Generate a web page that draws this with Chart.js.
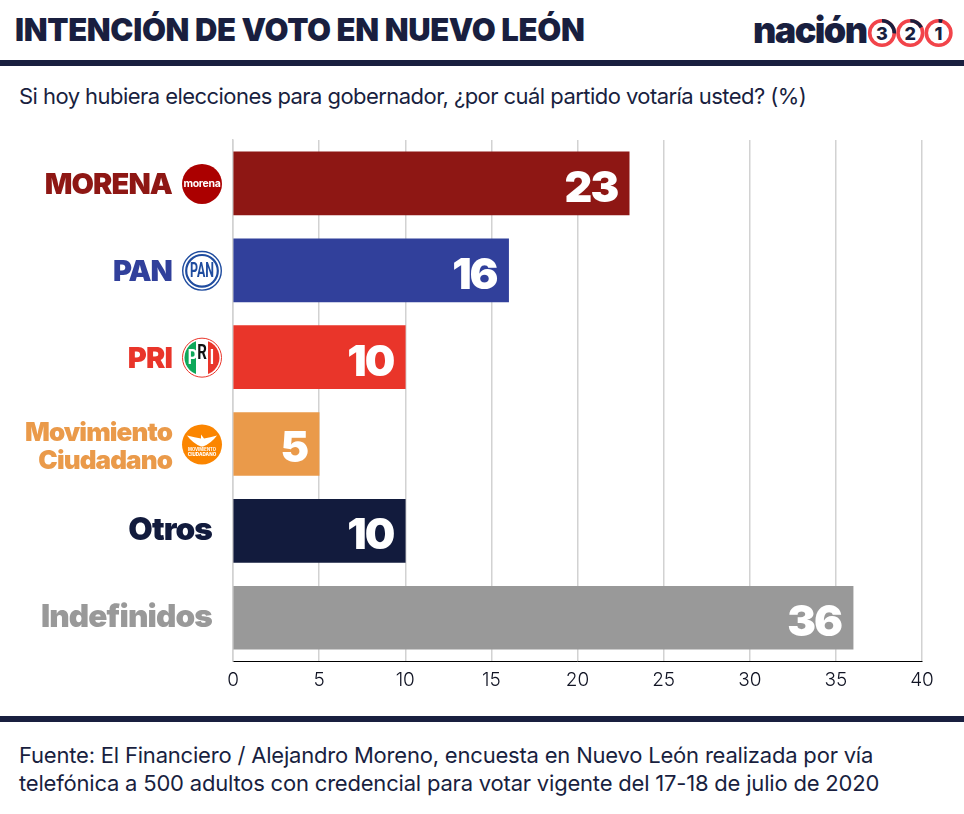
<!DOCTYPE html>
<html>
<head>
<meta charset="utf-8">
<script src="https://cdn.jsdelivr.net/npm/chart.js@4"></script>
<style>
  html, body { margin: 0; padding: 0; background: #fff; }
  body { width: 964px; height: 814px; position: relative; overflow: hidden; }
  .abs { position: absolute; white-space: nowrap; }
  #title { left: 15px; top: 11px; font: 900 31px Inter, sans-serif; letter-spacing: -0.33px; color: #191f3f; }
  #subtitle { left: 19px; top: 83px; font: 400 22px Inter, sans-serif; letter-spacing: -0.55px; color: #191f3f; }
  #source { left: 19px; top: 741px; font: 400 22px/28px Inter, sans-serif; letter-spacing: -0.2px; color: #191f3f; }
  .rule { position: absolute; left: 0; width: 964px; background: #191f3f; }
  #logo-word { left: 753px; top: 8px; font: 900 36px Inter, sans-serif; letter-spacing: -1.6px; color: #191f3f; }
  #chart-wrap { position: absolute; left: 0; top: 125px; width: 964px; height: 575px; }
</style>
</head>
<body>
<div class="abs" id="title">INTENCIÓN DE VOTO EN NUEVO LEÓN</div>
<div class="abs" id="logo-word">nación</div>
<svg class="abs" style="left:866px;top:17px" width="90" height="32" id="rings"></svg>
<div class="rule" style="top:60px;height:6px"></div>
<div class="abs" id="subtitle">Si hoy hubiera elecciones para gobernador, ¿por cuál partido votaría usted? (%)</div>
<div id="chart-wrap"><canvas id="chart"></canvas></div>
<div class="rule" style="top:716px;height:6px"></div>
<div class="abs" id="source">Fuente: El Financiero / Alejandro Moreno, encuesta en Nuevo León realizada por vía<br>telefónica a 500 adultos con credencial para votar vigente del 17-18 de julio de 2020</div>

<script>
const categories = ['MORENA', 'PAN', 'PRI', 'Movimiento Ciudadano', 'Otros', 'Indefinidos'];
const values = [23, 16, 10, 5, 10, 36];
const barColors = ['#8e1714', '#31409b', '#e9352a', '#ea9a4a', '#121b3d', '#999999'];
const logoNames = ['morena', 'pan', 'pri', 'mc', null, null];
const xTicks = [0, 5, 10, 15, 20, 25, 30, 35, 40];

// --- Header logo rings ---
const rings = document.getElementById('rings');
const ringArcs = [1.6, 1.1, 0.3];
let ringHtml = '';
['3', '2', '1'].forEach((num, i) => {
    const cx = 16 + i * 28.3;
    ringHtml += `<circle cx="${cx}" cy="16" r="12.3" fill="none" stroke="#f2444a" stroke-width="3.6"/>`;
    ringHtml += `<path d="M${cx} 3.7 A12.3 12.3 0 0 1 ${cx + 12.3 * Math.sin(ringArcs[i])} ${16 - 12.3 * Math.cos(ringArcs[i])}" fill="none" stroke="#191f3f" stroke-width="3.6"/>`;
    ringHtml += `<text x="${cx}" y="22.5" text-anchor="middle" font-family="Inter" font-weight="800" font-size="18" fill="#191f3f">${num}</text>`;
});
rings.innerHTML = ringHtml;

// squeezed text for the PAN / PRI logo letters
function narrowText(ctx, text, x, y, size, squeeze) {
    ctx.save();
    ctx.translate(x, y);
    ctx.scale(squeeze, 1);
    ctx.font = `700 ${size}px Roboto`;
    ctx.fillText(text, 0, 0);
    ctx.restore();
}

// --- Party logos, drawn at the row position given by the y scale ---
function drawLogo(ctx, name, cx, cy) {
    const r = 20;
    const circle = (rad, fill, stroke, lw) => {
        ctx.beginPath();
        ctx.arc(cx, cy, rad, 0, Math.PI * 2);
        if (fill) { ctx.fillStyle = fill; ctx.fill(); }
        if (stroke) { ctx.strokeStyle = stroke; ctx.lineWidth = lw; ctx.stroke(); }
    };
    ctx.textAlign = 'center';
    ctx.textBaseline = 'middle';
    if (name === 'morena') {
        circle(r, '#ab0000');
        ctx.fillStyle = '#fff';
        ctx.font = '700 10.5px Inter';
        ctx.letterSpacing = '-0.3px';
        ctx.fillText('morena', cx, cy);
        ctx.letterSpacing = '0px';
    } else if (name === 'pan') {
        circle(r - 0.7, '#fff', '#1f4c9f', 1.4);
        circle(r - 4.2, '#fff', '#1f4c9f', 2.2);
        ctx.fillStyle = '#1f4c9f';
        narrowText(ctx, 'PAN', cx, cy + 1, 20, 0.62);
    } else if (name === 'pri') {
        ctx.save();
        ctx.beginPath();
        ctx.arc(cx, cy, r - 2.5, 0, Math.PI * 2);
        ctx.clip();
        ctx.fillStyle = '#0ea85a';
        ctx.fillRect(cx - r, cy - r, r - 6, r * 2);
        ctx.fillStyle = '#e9352a';
        ctx.fillRect(cx + 6, cy - r, r, r * 2);
        ctx.restore();
        circle(r - 0.5, null, '#e9352a', 1);
        ctx.fillStyle = '#fff';
        narrowText(ctx, 'P', cx - 9.5, cy + 1, 20, 0.75);
        narrowText(ctx, 'I', cx + 10, cy + 1, 20, 0.75);
        ctx.fillStyle = '#111';
        narrowText(ctx, 'R', cx, cy - 4, 20, 0.75);
    } else if (name === 'mc') {
        circle(r, '#fb8500');
        ctx.fillStyle = '#fff';
        ctx.beginPath();
        ctx.moveTo(cx - 15, cy - 9);
        ctx.quadraticCurveTo(cx - 7, cy - 7, cx - 1, cy - 6);
        ctx.lineTo(cx - 1, cy - 10);
        ctx.lineTo(cx + 2, cy - 6);
        ctx.quadraticCurveTo(cx + 8, cy - 7, cx + 15, cy - 9);
        ctx.quadraticCurveTo(cx + 9, cy - 1, cx + 1, cy + 2);
        ctx.lineTo(cx - 1, cy + 2);
        ctx.quadraticCurveTo(cx - 9, cy - 1, cx - 15, cy - 9);
        ctx.fill();
        ctx.font = '700 4.2px Inter';
        ctx.fillText('MOVIMIENTO', cx, cy + 5.5);
        ctx.font = '800 4.6px Inter';
        ctx.fillText('CIUDADANO', cx, cy + 10);
    }
}

// --- Category labels + logos + value labels ---
const rowLabels = {
    id: 'rowLabels',
    afterDatasetsDraw(chart) {
        const { ctx, scales } = chart;
        ctx.save();
        categories.forEach((cat, i) => {
            const y = scales.y.getPixelForValue(i);
            const hasLogo = logoNames[i] !== null;
            const right = hasLogo ? 172 : 212;
            ctx.fillStyle = barColors[i];
            ctx.textAlign = 'right';
            ctx.textBaseline = 'middle';
            ctx.letterSpacing = '-0.9px';
            if (i === 3) {
                const parts = cat.split(' ');
                ctx.font = '900 26px Inter';
                ctx.fillText(parts[0], right, y - 11);
                ctx.fillText(parts[1], right, y + 17);
            } else if (hasLogo) {
                ctx.font = '900 29px Inter';
                ctx.fillText(cat, right, y + 2);
            } else {
                ctx.font = '900 31.6px Inter';
                ctx.fillText(cat, right, y);
            }
            ctx.letterSpacing = '0px';
            if (hasLogo) drawLogo(ctx, logoNames[i], 202, y + 0.5);
            // value inside the bar end
            ctx.fillStyle = '#fff';
            ctx.textAlign = 'right';
            ctx.textBaseline = 'middle';
            ctx.font = '900 43px Inter';
            ctx.letterSpacing = '-2px';
            ctx.fillText(String(values[i]), scales.x.getPixelForValue(values[i]) - 12, y + 5.5);
            ctx.letterSpacing = '0px';
        });
        ctx.restore();
    }
};

// --- Chart.js Initialization ---
const chart = new Chart(document.getElementById('chart').getContext('2d'), {
    type: 'bar',
    data: {
        labels: categories,
        datasets: [{
            data: values,
            backgroundColor: barColors,
            barThickness: 63,
            borderWidth: 0
        }]
    },
    options: {
        indexAxis: 'y',
        responsive: true,
        maintainAspectRatio: false,
        animation: false,
        layout: { padding: { left: 225, right: 42, top: 15, bottom: 0 } },
        plugins: { legend: { display: false }, tooltip: { enabled: false } },
        scales: {
            x: {
                min: 0,
                max: 40,
                afterBuildTicks: (axis) => { axis.ticks = xTicks.map(v => ({ value: v })); },
                grid: { color: '#d2d2d2', lineWidth: 1.5, drawTicks: false },
                border: { color: '#000', width: 1 },
                ticks: { color: '#111424', font: { family: 'Inter', size: 19, weight: 300 }, padding: 8, maxRotation: 0 }
            },
            y: {
                grid: { display: false },
                border: { color: '#d2d2d2', width: 1.5 },
                ticks: { display: false }
            }
        }
    },
    plugins: [rowLabels]
});
</script>
</body>
</html>
